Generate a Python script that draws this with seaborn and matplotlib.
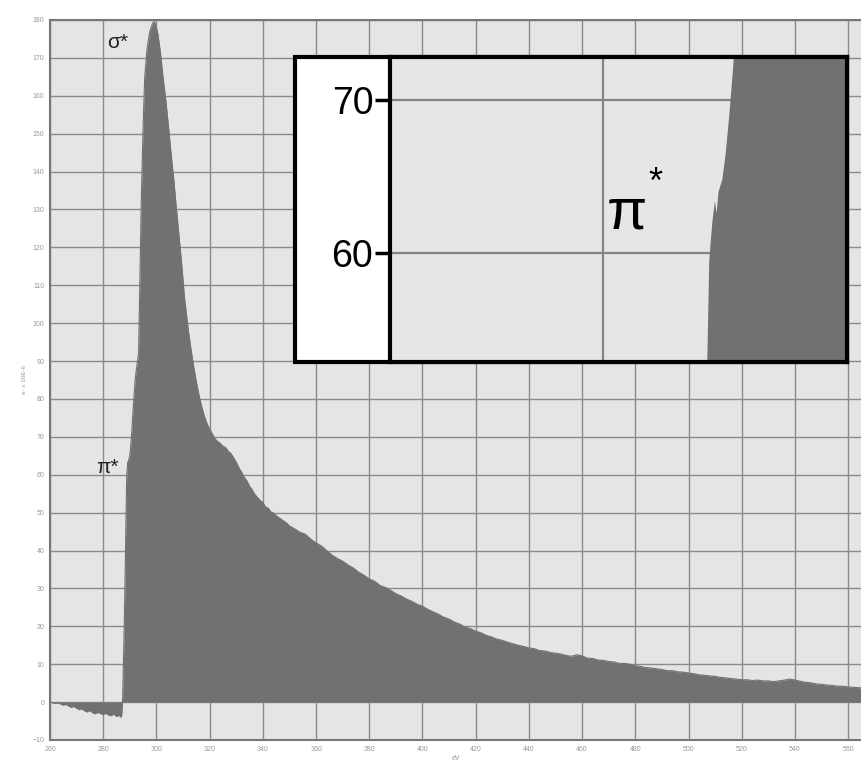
import numpy as np
import pandas as pd
import matplotlib
matplotlib.use("Agg")
import matplotlib.pyplot as plt
from matplotlib.patches import Rectangle
import seaborn as sns

# spectrum (eV, intensity)
energy = [260, 261, 262, 263, 264, 265, 266, 267, 268, 269, 270, 271, 272, 273, 274,
          275, 276, 277, 278, 279, 280, 281, 282, 283, 284, 285, 286, 286.8, 287.0,
          287.3, 287.6, 287.9, 288.2, 288.45, 288.67, 288.83, 289.0, 289.1, 289.3,
          289.45, 289.6, 289.92, 290.2, 290.5, 290.83, 291.0, 291.5, 292.0, 292.5,
          293.3, 294.3, 295.0, 295.6, 296.5, 297.5, 298.5, 299.0, 299.5, 300.5, 301.5,
          302.3, 303.5, 304.5, 305.6, 306.5, 307.4, 308.5, 309.5, 310.5, 312, 313, 314,
          315, 316, 317, 318, 319, 320, 321, 322, 323, 324, 325, 326, 327, 328, 329,
          330, 331, 332, 333, 334, 335, 336, 337, 338, 339, 340, 341, 342, 343, 344,
          345, 346, 347, 348, 349, 350, 352, 354, 356, 358, 360, 362, 364, 366, 368,
          370, 372, 374, 376, 378, 380, 382, 384, 386, 388, 390, 392, 394, 396, 398,
          400, 402, 404, 406, 408, 410, 412, 414, 416, 418, 420, 422, 424, 426, 428,
          430, 432, 434, 436, 438, 440, 442, 444, 446, 448, 450, 452, 454, 456, 458,
          460, 462, 464, 466, 468, 470, 472, 474, 476, 478, 480, 482, 484, 486, 488,
          490, 492, 494, 496, 498, 500, 502, 504, 506, 508, 510, 512, 514, 516, 518,
          520, 522, 524, 526, 528, 530, 532, 534, 536, 538, 540, 542, 544, 546, 548,
          550, 552, 554, 556, 558, 560, 562, 564, 566]
intensity = [0.0, -0.2, -0.3, -0.2, -0.5, -0.8, -0.6, -1.0, -1.4, -1.1, -1.6, -2.0, -1.7,
             -2.3, -2.6, -2.2, -2.8, -3.1, -2.7, -3.0, -3.3, -2.9, -3.4, -3.6, -3.1, -3.8,
             -3.5, -4.0, -3.0,
             1.0, 10.0, 20.0, 32.0, 44.0, 53.0, 59.5, 61.2, 62.1, 63.4,
             62.6, 64.0, 64.8, 66.5, 69.0, 72.2, 74.5, 80.0, 85.0, 88.0,
             92.0, 132.0, 152.0, 165.0, 172.5, 177.0, 179.0, 179.6, 179.2, 176.5, 171.5,
             166.0, 159.0, 152.0, 144.0, 138.0, 131.0, 123.0, 115.5, 107.0, 98.0, 93.0, 88.5,
             84.5, 81.0, 78.0, 75.5, 73.5, 72.0, 70.8, 69.5, 68.8, 68.3, 67.5, 67.2, 66.2,
             65.6, 64.5, 63.3, 61.8, 60.7, 59.3, 58.4, 57.0, 56.0, 54.8, 54.0, 53.2, 52.7,
             51.5, 51.2, 50.2, 49.9, 49.2, 48.7, 48.2, 47.7, 47.2, 46.5, 45.7, 44.8, 44.3,
             43.0, 42.0, 41.2, 40.0, 38.8, 37.9, 37.2, 36.2, 35.4, 34.3, 33.5, 32.5, 31.9,
             30.8, 30.3, 29.5, 28.6, 28.0, 27.2, 26.6, 25.8, 25.3, 24.5, 23.8, 23.2, 22.4,
             21.9, 21.1, 20.6, 19.8, 19.4, 18.7, 18.3, 17.6, 17.2, 16.6, 16.3, 15.8, 15.4,
             15.0, 14.7, 14.3, 14.1, 13.6, 13.5, 13.1, 12.9, 12.7, 12.3, 12.1, 12.5, 12.2,
             11.6, 11.5, 11.1, 11.0, 10.7, 10.6, 10.2, 10.2, 10.0, 9.6, 9.4, 9.1, 9.0, 8.8,
             8.6, 8.3, 8.3, 8.0, 7.9, 7.7, 7.5, 7.2, 7.1, 6.9, 6.8, 6.5, 6.4, 6.2, 6.1,
             5.9, 5.9, 5.7, 5.8, 5.6, 5.6, 5.4, 5.6, 5.8, 6.1, 5.8, 5.5, 5.2, 5.1, 4.8,
             4.7, 4.5, 4.4, 4.2, 4.2, 4.0, 3.9, 3.8, 3.7]

x_ticks = list(range(260, 561, 20))
y_ticks = list(range(-10, 181, 10))
inset_yticks = [60, 70]

df = pd.DataFrame({"energy": energy, "intensity": intensity})

sns.set_theme(style="whitegrid")
plt.rcParams["font.family"] = ["Liberation Sans", "DejaVu Sans"]

fill_col = "#717171"
bg_col = "#e5e5e5"
grid_col = "#8a8a8a"

fig = plt.figure(figsize=(8.62, 7.71), dpi=100)
fig.patch.set_facecolor("white")

ax = fig.add_axes([50 / 862, 31 / 771, 812 / 862, 720 / 771])
ax.set_facecolor(bg_col)
ax.fill_between(df["energy"], df["intensity"], 0, color=fill_col, lw=0, zorder=2)
sns.lineplot(data=df, x="energy", y="intensity", ax=ax, color=fill_col, lw=0.8,
             zorder=2, sort=False)
ax.set_xlim(260, 565.2)
ax.set_ylim(-10, 180)
ax.set_xticks(x_ticks)
ax.set_yticks(y_ticks)
ax.grid(True, color=grid_col, lw=1.0)
ax.set_axisbelow(True)
ax.tick_params(axis="both", labelsize=5, colors="#888888", length=3, width=0.8,
               pad=1, direction="out")
ax.tick_params(axis="both", labelcolor="#999999")
for s in ["left", "bottom", "top"]:
    ax.spines[s].set_color("#777777")
    ax.spines[s].set_linewidth(1.5)
ax.spines["right"].set_visible(False)
ax.set_xlabel("eV", fontsize=5, color="#999999", labelpad=2)
ax.set_ylabel("e- x 10E-6", fontsize=4.5, color="#999999", labelpad=4)

ax.text(277.3, 59.5, "π*", fontsize=15, color="#222222", ha="left", va="bottom")
ax.text(281.5, 171.5, "σ*", fontsize=15, color="#222222", ha="left", va="bottom")

# white label panel and thick frame behind the inset
frame = Rectangle((295 / 862, 409 / 771), 552 / 862, 305 / 771, transform=fig.transFigure,
                  facecolor="white", edgecolor="black", lw=3, zorder=3)
fig.patches.append(frame)

ins = fig.add_axes([390 / 862, 409 / 771, 457 / 862, 305 / 771], zorder=5)
ins.set_facecolor("#e6e6e6")
ins.fill_between(df["energy"], df["intensity"], 0, color=fill_col, lw=0, zorder=2)
ins.set_xlim(262.25, 300.3)
ins.set_ylim(52.9, 72.8)
ins.set_xticks([280])
ins.set_yticks(inset_yticks)
ins.grid(True, color="#858585", lw=1.6)
ins.set_axisbelow(True)
ins.tick_params(axis="x", length=0, labelbottom=False)
ins.tick_params(axis="y", labelsize=27, colors="black", length=11, width=2.5, pad=1,
                left=True)
for s in ins.spines.values():
    s.set_color("black")
    s.set_linewidth(3)
ins.text(280.3, 61.6, "π", fontsize=42, color="black", ha="left", va="baseline")
ins.text(283.75, 63.9, "*", fontsize=26, color="black", ha="left", va="baseline")

fig.savefig("out.png", dpi=100)
